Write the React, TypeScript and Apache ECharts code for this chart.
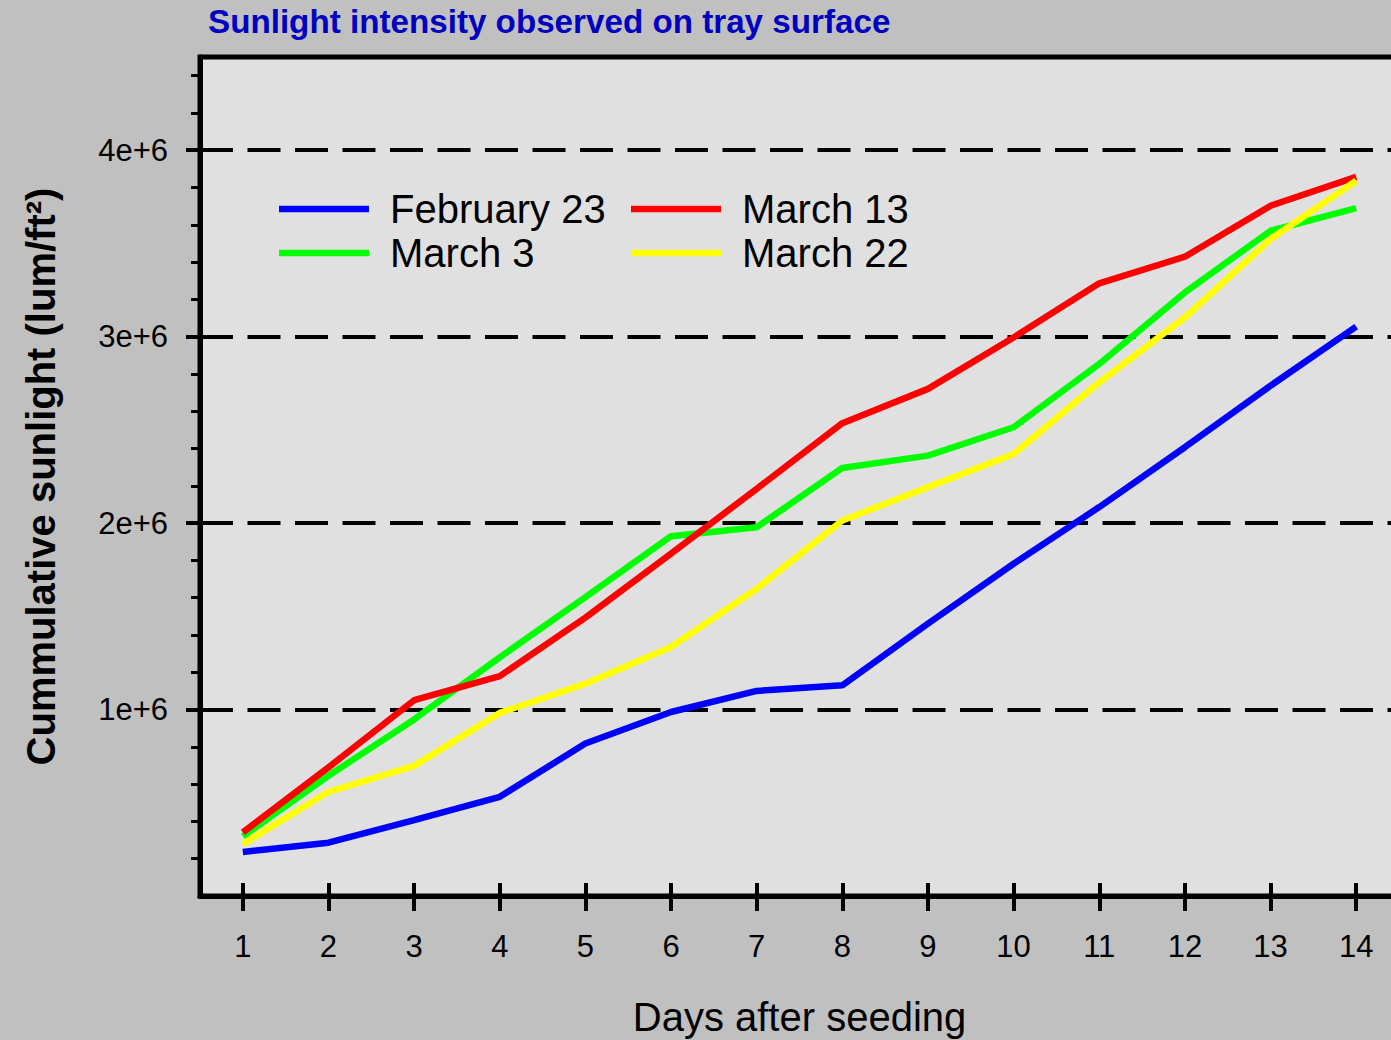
import React, { useEffect, useRef } from "react";
import * as echarts from "echarts";

const days = ["1", "2", "3", "4", "5", "6", "7", "8", "9", "10", "11", "12", "13", "14"];

const feb23 = [236000, 286000, 407000, 532000, 818000, 987000, 1100000, 1130000, 1461000, 1782000, 2086000, 2407000, 2737000, 3054000];
const mar3 = [320000, 645000, 947000, 1280000, 1603000, 1930000, 1978000, 2296000, 2362000, 2514000, 2854000, 3237000, 3568000, 3689000];
const mar13 = [341000, 690000, 1050000, 1179000, 1493000, 1836000, 2184000, 2536000, 2720000, 2996000, 3286000, 3429000, 3702000, 3857000];
const mar22 = [279000, 559000, 698000, 982000, 1139000, 1336000, 1648000, 2014000, 2193000, 2371000, 2755000, 3103000, 3523000, 3836000];

const yLabelValues = [1000000, 2000000, 3000000, 4000000];
const yMinorTickValues = [
  200000, 400000, 600000, 800000, 1200000, 1400000, 1600000, 1800000,
  2200000, 2400000, 2600000, 2800000, 3200000, 3400000, 3600000, 3800000,
  4200000, 4400000,
];

const FONT = "'Liberation Sans', Arial, Helvetica, sans-serif";

export default function App() {
  const ref = useRef<HTMLDivElement>(null);

  useEffect(() => {
    if (!ref.current) return;
    const chart = echarts.init(ref.current, undefined, { renderer: "svg" });
    const yBase = {
      type: "value",
      min: 0,
      max: 4500000,
      interval: 1000000,
      position: "left",
      gridIndex: 0,
    };
    const xBase = {
      type: "category",
      data: days,
      boundaryGap: true,
      position: "bottom",
      gridIndex: 0,
    };
    const legendText = {
      fontSize: 40,
      lineHeight: 44,
      color: "#000",
      padding: [0, 0, 0, 16],
      fontFamily: FONT,
    };
    chart.setOption({
      animation: false,
      backgroundColor: "#c0c0c0",
      textStyle: { fontFamily: FONT },
      title: {
        text: "Sunlight intensity observed on tray surface",
        left: 208,
        top: 5,
        padding: 0,
        textStyle: { color: "#0000c0", fontSize: 33.2, fontWeight: "bold", fontFamily: FONT },
      },
      legend: [
        {
          data: ["February 23", "March 3"],
          orient: "vertical",
          left: 279,
          top: 187,
          padding: 0,
          icon: "rect",
          itemWidth: 90,
          itemHeight: 6.5,
          itemGap: 0,
          textStyle: legendText,
        },
        {
          data: ["March 13", "March 22"],
          orient: "vertical",
          left: 631,
          top: 187,
          padding: 0,
          icon: "rect",
          itemWidth: 90,
          itemHeight: 6.5,
          itemGap: 0,
          textStyle: legendText,
        },
      ],
      grid: {
        left: 200,
        top: 57,
        width: 1199,
        height: 839,
        outerBoundsMode: "none",
        containLabel: false,
        show: true,
        backgroundColor: "#e0e0e0",
        borderColor: "#000",
        borderWidth: 5,
      },
      xAxis: [
        {
          ...xBase,
          axisLine: { show: true, lineStyle: { color: "#000", width: 5 } },
          axisTick: { show: true, alignWithLabel: true, length: 15, lineStyle: { color: "#000", width: 4 } },
          axisLabel: { show: true, color: "#000", fontSize: 31, margin: 35, fontFamily: FONT },
          splitLine: { show: false },
          name: "Days after seeding",
          nameLocation: "middle",
          nameGap: 101,
          nameMoveOverlap: false,
          nameTextStyle: { color: "#000", fontSize: 40, fontFamily: FONT },
        },
        {
          ...xBase,
          axisLine: { show: false },
          axisTick: { show: true, inside: true, alignWithLabel: true, length: 13, lineStyle: { color: "#000", width: 4 } },
          axisLabel: { show: false },
          splitLine: { show: false },
        },
      ],
      yAxis: [
        {
          ...yBase,
          axisLine: { show: true, lineStyle: { color: "#000", width: 5 } },
          axisTick: { show: true, customValues: yLabelValues, length: 14, lineStyle: { color: "#000", width: 4 } },
          axisLabel: {
            show: true,
            customValues: yLabelValues,
            color: "#000",
            fontSize: 31,
            margin: 32,
            fontFamily: FONT,
            formatter: (v: number) => (yLabelValues.indexOf(v) >= 0 ? `${v / 1000000}e+6` : ""),
          },
          splitLine: {
            show: true,
            lineStyle: { color: "#000", width: 4, type: [33, 14.5] },
          },
          name: "Cummulative sunlight (lum/ft²)",
          nameLocation: "middle",
          nameGap: 139,
          nameMoveOverlap: false,
          nameTextStyle: { color: "#000", fontSize: 40, fontWeight: "bold", fontFamily: FONT },
        },
        {
          ...yBase,
          axisLine: { show: false },
          axisTick: { show: true, inside: true, customValues: yLabelValues, length: 14, lineStyle: { color: "#000", width: 4 } },
          axisLabel: { show: false },
          splitLine: { show: false },
        },
        {
          ...yBase,
          axisLine: { show: false },
          axisTick: { show: true, customValues: yMinorTickValues, length: 9, lineStyle: { color: "#000", width: 3 } },
          axisLabel: { show: false },
          splitLine: { show: false },
        },
      ],
      series: [
        { name: "February 23", data: feb23, color: "#0000ff" },
        { name: "March 3", data: mar3, color: "#00ff00" },
        { name: "March 13", data: mar13, color: "#ff0000" },
        { name: "March 22", data: mar22, color: "#ffff00" },
      ].map((s) => ({
        type: "line",
        name: s.name,
        data: s.data,
        xAxisIndex: 0,
        yAxisIndex: 0,
        symbol: "none",
        showSymbol: false,
        itemStyle: { color: s.color },
        lineStyle: { color: s.color, width: 6.5 },
      })),
    });
    return () => chart.dispose();
  }, []);

  return (
    <div
      ref={ref}
      style={{ position: "fixed", left: 0, top: 0, width: 1391, height: 1040 }}
    />
  );
}
